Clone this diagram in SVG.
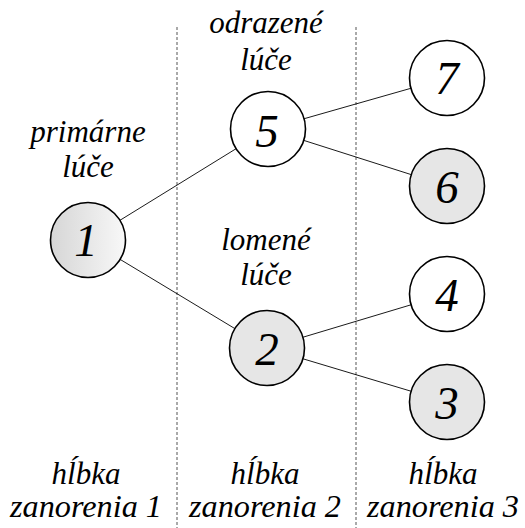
<svg xmlns="http://www.w3.org/2000/svg" width="525" height="528" viewBox="0 0 525 528">
<style>
.n{stroke:#000;stroke-width:1.6}
.w{fill:#fff}
.g{fill:#e6e6e6}
.d{font-family:'Liberation Serif','Times New Roman',serif;font-style:italic;font-size:47px;text-anchor:middle}
.t{font-family:'Liberation Serif','Times New Roman',serif;font-style:italic;font-size:31px;text-anchor:middle}
.c line{stroke:#000;stroke-width:0.9}
.sep{stroke:#555;stroke-width:1;stroke-dasharray:3,2}
</style>
<defs>
<linearGradient id="gr" x1="0" y1="0" x2="1" y2="0">
<stop offset="0" stop-color="#d6d6d6"/><stop offset="1" stop-color="#f8f8f8"/>
</linearGradient>
</defs>
<rect width="525" height="528" fill="#fff"/>
<line class="sep" x1="177" y1="27" x2="177" y2="528"/>
<line class="sep" x1="356" y1="27" x2="356" y2="528"/>
<g class="c">
<line x1="88" y1="240" x2="268" y2="129"/>
<line x1="88" y1="240" x2="267" y2="348"/>
<line x1="268" y1="129" x2="447" y2="78"/>
<line x1="268" y1="129" x2="447" y2="186"/>
<line x1="267" y1="348" x2="447" y2="294"/>
<line x1="267" y1="348" x2="447" y2="402"/>
</g>
<g id="n1"><circle class="n" cx="88" cy="240" r="37.5" fill="url(#gr)"/><text class="d" x="86" y="256">1</text></g>
<g id="n5"><circle class="n w" cx="268" cy="129" r="37.5"/><text class="d" x="267" y="147">5</text></g>
<g id="n2"><circle class="n g" cx="267" cy="348" r="37.5"/><text class="d" x="267" y="365">2</text></g>
<g id="n7"><circle class="n w" cx="447" cy="78" r="37.5"/><text class="d" x="447" y="94">7</text></g>
<g id="n6"><circle class="n g" cx="447" cy="186" r="37.5"/><text class="d" x="447" y="203">6</text></g>
<g id="n4"><circle class="n w" cx="447" cy="294" r="37.5"/><text class="d" x="447" y="311">4</text></g>
<g id="n3"><circle class="n g" cx="447" cy="402" r="37.5"/><text class="d" x="447" y="419">3</text></g>
<g id="labels">
<text class="t" x="88" y="142">primárne</text>
<text class="t" x="88" y="177">lúče</text>
<text class="t" x="266" y="33">odrazené</text>
<text class="t" x="266" y="70">lúče</text>
<text class="t" x="266" y="250">lomené</text>
<text class="t" x="266" y="285">lúče</text>
<text class="t" x="86" y="484">hĺbka</text>
<text class="t" x="86" y="517" textLength="152" lengthAdjust="spacingAndGlyphs">zanorenia 1</text>
<text class="t" x="265" y="484">hĺbka</text>
<text class="t" x="265" y="517" textLength="152" lengthAdjust="spacingAndGlyphs">zanorenia 2</text>
<text class="t" x="443" y="484">hĺbka</text>
<text class="t" x="443" y="517" textLength="152" lengthAdjust="spacingAndGlyphs">zanorenia 3</text>
</g>
</svg>
